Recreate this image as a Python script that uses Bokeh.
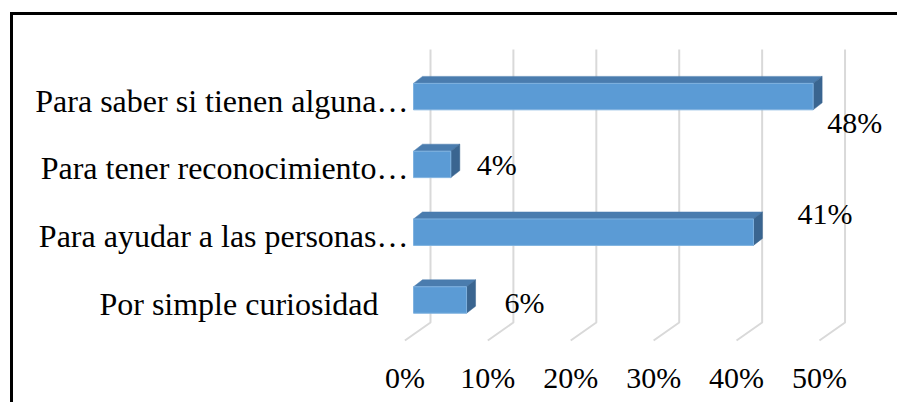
from bokeh.plotting import figure
from bokeh.models import Range1d, LinearAxis, ColumnDataSource, FixedTicker, PrintfTickFormatter
from bokeh.core.properties import value
from bokeh.embed import file_html
from bokeh.resources import INLINE

# ---- data (bottom to top) ----
categories = ["Por simple curiosidad", "Para ayudar a las personas\u2026",
              "Para tener reconocimiento\u2026", "Para saber si tienen alguna\u2026"]
values = [6.4, 41.0, 4.5, 48.2]
value_labels = ["6%", "41%", "4%", "48%"]
tick_values = [0, 10, 20, 30, 40, 50]

# ---- styling / layout constants ----
FONT = "Liberation Serif"
OX, OY = 13, 15               # page position of the canvas (inside the chart border)
W, H = 900 - OX, 405 - OY
ML, MT, MB = 0, 0, 55
FRAME_W, FRAME_H = W - ML, H - MT - MB
SX = 8.291                    # px per percent
SY = 67.8                     # px per category step
X0 = (OX + ML - 413) / SX
X1 = X0 + FRAME_W / SX
Y1 = (299.5 - (OY + MT)) / SY
Y0 = Y1 - FRAME_H / SY

def ux(px):
    return px / SX

def uy(px):
    return px / SY

bar_h = 0.39
depth_dx, depth_dy = ux(9), uy(7)
grid_back_dx = ux(17)
floor_front_dx = ux(-8.6)
grid_top, grid_floor_back, grid_floor_front = 3.695, -0.332, -0.597

label_dx = [38, 44, 26, 14]      # px from bar end
label_dy = [2, -18.5, 0, 25.7]   # px from bar centre (down +)
cat_dx = [-35, -5, -5, -5]
cat_dy = 4

p = figure(width=W, height=H, x_range=Range1d(X0, X1), y_range=Range1d(Y0, Y1),
           x_axis_type=None, y_axis_type=None, output_backend="svg",
           toolbar_location=None, min_border_left=ML, min_border_right=0,
           min_border_top=MT, min_border_bottom=MB)
p.outline_line_color = None
p.background_fill_color = "white"
p.border_fill_color = "white"
# chart border: black on the left and top, as in the reference
p.styles = {"margin-left": "10px", "margin-top": "12px",
            "border-left": "3px solid black", "border-top": "3px solid black"}
p.extra_x_ranges = {"floor": Range1d(X0 - floor_front_dx, X1 - floor_front_dx)}

# gridlines (back wall + floor diagonal)
gx, gy = [], []
for t in tick_values:
    gx.append([t + floor_front_dx, t + grid_back_dx, t + grid_back_dx])
    gy.append([grid_floor_front, grid_floor_back, grid_top])
p.multi_line(gx, gy, line_color="#D9D9D9", line_width=2)

ys = list(range(len(categories)))

# bars: top face, side face, front face
top_xs, top_ys, side_xs, side_ys = [], [], [], []
for y, v in zip(ys, values):
    t = y + bar_h / 2
    b = y - bar_h / 2
    top_xs.append([0, v, v + depth_dx, depth_dx])
    top_ys.append([t, t, t + depth_dy, t + depth_dy])
    side_xs.append([v, v + depth_dx, v + depth_dx, v])
    side_ys.append([b, b + depth_dy, t + depth_dy, t])
p.patches(top_xs, top_ys, fill_color="#4A7CAE", line_color="#4A7CAE", line_width=0.5)
p.patches(side_xs, side_ys, fill_color="#3A6590", line_color="#3A6590", line_width=0.5)
p.hbar(y=ys, left=0, right=values, height=bar_h, fill_color="#5B9BD5",
       line_color="#7FB2E0", line_width=1)

# data labels
src = ColumnDataSource(dict(x=values, y=ys, t=value_labels, dx=label_dx, dy=label_dy))
p.text(x="x", y="y", text="t", x_offset="dx", y_offset="dy", source=src,
       text_font=value(FONT), text_font_size="30px", text_color="black",
       text_align="left", text_baseline="middle")

# category labels
csrc = ColumnDataSource(dict(x=[0] * len(categories), y=ys, t=categories, dx=cat_dx,
                             dy=[cat_dy] * len(categories)))
p.text(x="x", y="y", text="t", x_offset="dx", y_offset="dy", source=csrc,
       text_font=value(FONT), text_font_size="32px", text_color="black",
       text_align="right", text_baseline="middle")

# x axis on the front floor
ax = LinearAxis(x_range_name="floor", ticker=FixedTicker(ticks=tick_values),
                formatter=PrintfTickFormatter(format="%d%%"))
ax.axis_line_color = None
ax.major_tick_line_color = None
ax.minor_tick_line_color = None
ax.major_label_text_font = FONT
ax.major_label_text_font_size = "30px"
ax.major_label_text_color = "black"
ax.major_label_standoff = 4
p.add_layout(ax, "below")

open("out.html", "w").write(file_html(p, INLINE))
